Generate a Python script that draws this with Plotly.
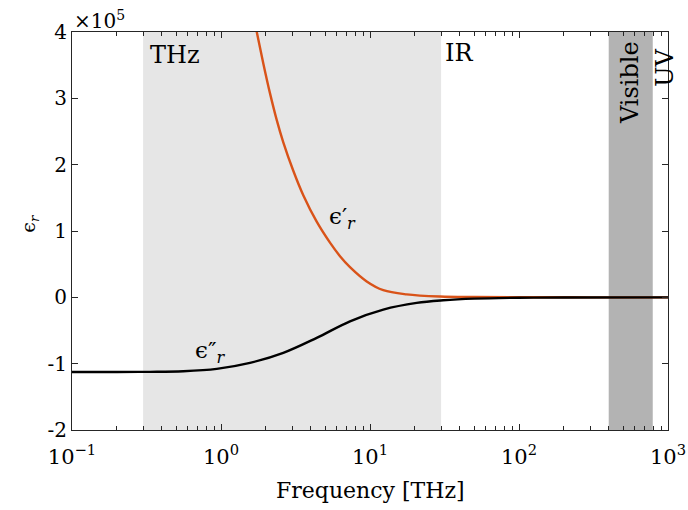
import numpy as np
import plotly.graph_objects as go

# ---- data (values in units of 1e5) ----
freq_real = [1.6, 1.736, 1.923, 2.133, 2.365, 2.619, 3.056, 3.566, 4.388, 5.389, 6.291, 7.34, 9.504, 12.28, 17.63, 29.5, 50, 100, 300, 1000]
eps_real = [4.39, 4.006, 3.527, 3.075, 2.676, 2.337, 1.908, 1.539, 1.14, 0.824, 0.62, 0.455, 0.24, 0.108, 0.044, 0.012, 0.004, 0.001, 0.0, 0.0]

freq_imag = [0.1, 0.2, 0.334, 0.558, 0.936, 1.565, 2.619, 4.388, 7.34, 12.28, 20.58, 31.0, 50, 100, 200, 1000]
eps_imag = [-1.125, -1.125, -1.123, -1.114, -1.078, -0.988, -0.837, -0.611, -0.361, -0.185, -0.084, -0.045, -0.02, -0.006, -0.002, 0.0]

thz_band = [0.3, 30]
vis_band = [400, 790]

xtick_vals = [0.1, 1, 10, 100, 1000]
xtick_text = ["10<sup>−1</sup>", "10<sup>0</sup>", "10<sup>1</sup>", "10<sup>2</sup>", "10<sup>3</sup>"]
ytick_vals = [-2, -1, 0, 1, 2, 3, 4]
ytick_text = ["-2", "-1", "0", "1", "2", "3", "4"]

FONT = "DejaVu Serif"

minor_vals = [m * 10.0 ** e for e in range(-1, 3) for m in range(2, 10)]

fig = go.Figure()
fig.add_trace(go.Scatter(x=freq_real, y=eps_real, mode="lines",
                         line=dict(color="#D95319", width=2.4, shape="spline", smoothing=1.0),
                         showlegend=False, hoverinfo="skip"))
fig.add_trace(go.Scatter(x=freq_imag, y=eps_imag, mode="lines",
                         line=dict(color="black", width=2.4, shape="spline", smoothing=1.0),
                         showlegend=False, hoverinfo="skip"))

fig.add_shape(type="rect", xref="x", yref="y", x0=thz_band[0], x1=thz_band[1], y0=-2, y1=4,
              fillcolor="#e6e6e6", line=dict(width=0), layer="below")
fig.add_shape(type="rect", xref="x", yref="y", x0=vis_band[0], x1=vis_band[1], y0=-2, y1=4,
              fillcolor="#b3b3b3", line=dict(width=0), layer="below")

ann_font = dict(family=FONT, size=24, color="black")
fig.add_annotation(x=np.log10(0.325), y=3.65, xref="x", yref="y", text="THz", showarrow=False,
                   xanchor="left", yanchor="middle", font=ann_font)
fig.add_annotation(x=1.49, y=3.68, xref="x", yref="y", text="IR", showarrow=False,
                   xanchor="left", yanchor="middle", font=ann_font)
fig.add_annotation(x=2.745, y=3.23, xref="x", yref="y", text="Visible", showarrow=False,
                   textangle=-90, xanchor="center", yanchor="middle", font=ann_font)
fig.add_annotation(x=2.983, y=3.47, xref="x", yref="y", text="UV", showarrow=False,
                   textangle=-90, xanchor="center", yanchor="middle", font=ann_font)
fig.add_annotation(x=np.log10(6.5), y=1.2, xref="x", yref="y", text="ϵ′<sub><i>r</i></sub>",
                   showarrow=False, font=dict(family=FONT, size=23, color="black"))
fig.add_annotation(x=np.log10(0.85), y=-0.83, xref="x", yref="y", text="ϵ″<sub><i>r</i></sub>",
                   showarrow=False, font=dict(family=FONT, size=23, color="black"))

# axis titles / multiplier
fig.add_annotation(x=0.5, y=-0.115, xref="paper", yref="paper", text="Frequency [THz]",
                   showarrow=False, yanchor="top", font=dict(family=FONT, size=22, color="black"))
fig.add_annotation(x=-0.097, y=0.52, xref="paper", yref="paper", text="ϵ<sub><i>r</i></sub>",
                   showarrow=False, textangle=-90, font=dict(family=FONT, size=19, color="black"))
fig.add_annotation(x=0.0, y=1.0, xref="paper", yref="paper", text="×10<sup>5</sup>",
                   showarrow=False, xanchor="left", yanchor="bottom", yshift=-3,
                   font=dict(family=FONT, size=20, color="black"))

fig.update_xaxes(type="log", range=[-1, 3], tickvals=xtick_vals, ticktext=xtick_text,
                 ticks="inside", ticklen=6, tickwidth=1, tickcolor="#262626",
                 minor=dict(tickvals=minor_vals, ticks="inside", ticklen=4, tickwidth=1,
                            tickcolor="#262626", showgrid=False),
                 showline=True, linecolor="#262626", linewidth=1, mirror="allticks",
                 showgrid=False, zeroline=False, automargin=False, ticklabelstandoff=8,
                 tickfont=dict(family=FONT, size=21, color="black"))
fig.update_yaxes(range=[-2, 4], tickvals=ytick_vals, ticktext=ytick_text,
                 ticks="inside", ticklen=6, tickwidth=1, tickcolor="#262626",
                 showline=True, linecolor="#262626", linewidth=1, mirror="allticks",
                 showgrid=False, zeroline=False, automargin=False,
                 tickfont=dict(family=FONT, size=20, color="black"))

fig.update_layout(width=688, height=510, margin=dict(l=72, r=20, t=32, b=80),
                  plot_bgcolor="white", paper_bgcolor="white")

fig.write_html("out.html")
